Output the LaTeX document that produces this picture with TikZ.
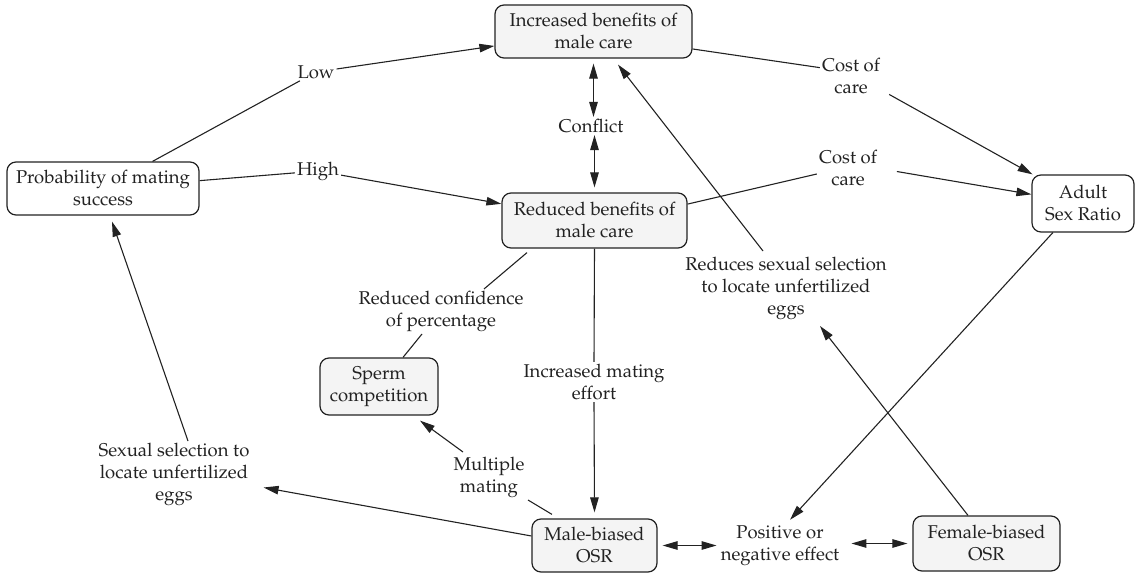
\documentclass[tikz,border=0pt]{standalone}
\usepackage[T1]{fontenc}
\usepackage{palatino}
\usetikzlibrary{arrows.meta}
\definecolor{ink}{HTML}{222222}
\definecolor{boxfill}{HTML}{F4F4F4}
\begin{document}
\begin{tikzpicture}[x=1pt,y=-1pt,
  every node/.style={font=\fontsize{18.5}{22}\selectfont, text=ink, align=center},
  box/.style={draw=ink, line width=1.2pt, rounded corners=9pt, fill=boxfill, inner sep=0pt},
  plainbox/.style={box, fill=white},
  lbl/.style={inner sep=2pt},
  link/.style={draw=ink, line width=1.1pt},
  arr/.style={link, -{Triangle[length=15pt,width=8.5pt]}},
  dbl/.style={link, {Triangle[length=15pt,width=8.5pt]}-{Triangle[length=15pt,width=8.5pt]}},
]
\useasboundingbox (0,0) rectangle (1138,575);

% boxed states
\node[box, minimum width=197pt, minimum height=53pt] (inc) at (593.5,31.5) {Increased benefits of\\male care};
\node[box, minimum width=185pt, minimum height=55pt] (red) at (594.5,220.5) {Reduced benefits of\\male care};
\node[plainbox, minimum width=192pt, minimum height=53pt] (prob) at (103,188.5) {Probability of mating\\success};
\node[plainbox, minimum width=102pt, minimum height=57pt] (asr) at (1083,203.5) {Adult\\Sex Ratio};
\node[box, minimum width=118pt, minimum height=57pt] (sperm) at (379,386.5) {Sperm\\competition};
\node[box, minimum width=125pt, minimum height=53pt] (mosr) at (594.5,545.5) {Male-biased\\OSR};
\node[box, minimum width=147pt, minimum height=55pt] (fosr) at (986.5,543.5) {Female-biased\\OSR};

% free-standing labels
\node[lbl] (low) at (316,72) {Low};
\node[lbl] (high) at (318,171) {High};
\node[lbl] (conflict) at (591,126) {Conflict};
\node[lbl] (cost1) at (851,76) {Cost of\\care};
\node[lbl] (cost2) at (848,168.5) {Cost of\\care};
\node[lbl] (reduces) at (786,288.5) {Reduces sexual selection\\to locate unfertilized\\eggs};
\node[lbl] (conf) at (441,311.5) {Reduced confidence\\of percentage};
\node[lbl] (effort) at (594,382) {Increased mating\\effort};
\node[lbl] (multi) at (489,477.5) {Multiple\\mating};
\node[lbl] (sexsel) at (174,474.5) {Sexual selection to\\locate unfertilized\\eggs};
\node[lbl] (pos) at (780,546) {Positive or\\negative effect};

% connectors
\draw[link] (prob) -- (low);
\draw[arr] (low) -- (inc);
\draw[link] (prob) -- (high);
\draw[arr] (high) -- (red);
\draw[dbl] ([yshift=-5pt]inc.south) -- (inc.south |- conflict.north);
\draw[dbl] (red.north |- conflict.south) -- ([yshift=5pt]red.north);
\draw[link] (inc.-10) -- (cost1.165);
\draw[arr, shorten <=8pt] (cost1.-25) -- (asr.150);
\draw[link] (red.10) -- (cost2.190);
\draw[arr, shorten <=18pt] (cost2.east) -- (asr.170);
\draw[arr] (asr.-136) -- ([xshift=10pt,yshift=4pt]pos.north);
\draw[arr] ([xshift=-18.5pt]fosr.north) -- ([xshift=34pt,yshift=-4pt]reduces.south);
\draw[arr] ([xshift=-23pt,yshift=4pt]reduces.north) -- ([xshift=24.5pt,yshift=-6pt]inc.south);
\draw[link] (red.south) -- (effort.north);
\draw[arr] (effort.south) -- ([yshift=6pt]mosr.north);
\draw[link] ([xshift=-67.5pt,yshift=-4pt]red.south) -- ([xshift=43pt]conf.north);
\draw[link] ([xshift=-19pt]conf.south) -- ([xshift=24pt]sperm.north);
\draw[link] ([xshift=39pt]multi.south) -- ([xshift=-42.5pt,yshift=4pt]mosr.north);
\draw[arr] ([xshift=-26pt,yshift=3pt]multi.north) -- ([xshift=41pt,yshift=-5pt]sperm.south);
\draw[arr] ([yshift=9.5pt]mosr.west) -- ([xshift=12pt,yshift=-13pt]sexsel.east);
\draw[arr] ([xshift=14pt]sexsel.north) -- ([xshift=9pt,yshift=-6pt]prob.south);
\draw[dbl, shorten <=5pt, shorten >=2pt] (mosr.east) -- (mosr.east -| pos.west);
\draw[dbl, shorten <=10pt, shorten >=5pt] (pos.east |- fosr.west) -- (fosr.west);
\end{tikzpicture}
\end{document}
